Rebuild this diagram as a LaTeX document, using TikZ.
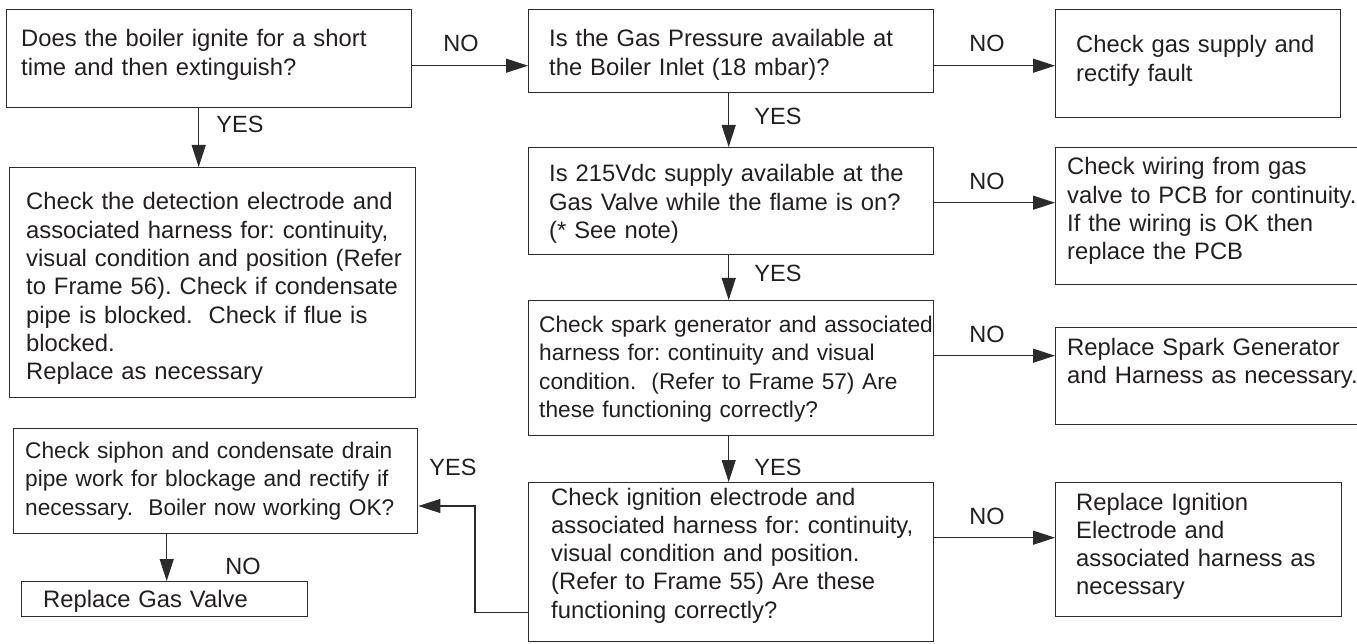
\documentclass[tikz,border=0pt]{standalone}
\usepackage{fontspec}
\setmainfont{Liberation Sans}
\usetikzlibrary{arrows.meta}
\definecolor{ink}{HTML}{231F20}
\definecolor{ln}{HTML}{2B2B2B}
\frenchspacing
\begin{document}
\begin{tikzpicture}[x=1pt,y=-1pt,
  box/.style={draw=ln, line width=1.4pt, inner sep=0pt, anchor=north west},
  txt/.style={text=ink, inner sep=0pt, anchor=base west, align=left, text width=430pt, font=\fontsize{23.8}{28.3}\selectfont\frenchspacing},
  txtsm/.style={txt, font=\fontsize{22.7}{28.6}\selectfont\frenchspacing},
  lab/.style={text=ink, inner sep=0pt, anchor=base, font=\fontsize{23.5}{28}\selectfont},
  arr/.style={draw=ln, line width=1.2pt, -{Triangle[length=22pt,width=14pt]}}]
\useasboundingbox (0,0) rectangle (1357,644);
% boxes
\node[box, minimum width=405pt, minimum height=98pt]  (A) at (6,9) {};
\node[box, minimum width=405pt, minimum height=83pt]  (B) at (528,9) {};
\node[box, minimum width=285pt, minimum height=108pt] (D) at (1055,9) {};
\node[box, minimum width=405pt, minimum height=107pt] (E) at (528,147) {};
\node[box, minimum width=310pt, minimum height=137pt] (F) at (1055,147) {};
\node[box, minimum width=406pt, minimum height=230pt] (C) at (9,167) {};
\node[box, minimum width=405pt, minimum height=135pt] (J) at (528,300) {};
\node[box, minimum width=310pt, minimum height=97pt]  (K) at (1055,327) {};
\node[box, minimum width=404pt, minimum height=105pt] (G) at (13,428) {};
\node[box, minimum width=405pt, minimum height=159pt] (L) at (528,482) {};
\node[box, minimum width=286pt, minimum height=134pt] (M) at (1055,482) {};
\node[box, minimum width=286pt, minimum height=35pt]  (H) at (21,581) {};
% texts
\node[txt] (At) at (21,47) {Does the boiler ignite for a short\\time and then extinguish?};
\node[txt] (Bt) at (549,47) {Is the Gas Pressure available at\\the Boiler Inlet (18 mbar)?};
\node[txt] (Dt) at (1076,53) {Check gas supply and\\rectify fault};
\node[txt] (Et) at (549,182) {Is 215Vdc supply available at the\\Gas Valve while the flame is on?\\(* See note)};
\node[txt] (Ft) at (1067,175) {Check wiring from gas\\valve to PCB for continuity.\\If the wiring is OK then\\replace the PCB};
\node[txt] (Ct) at (26,210) {Check the detection electrode and\\associated harness for: continuity,\\visual condition and position (Refer\\to Frame 56). Check if condensate\\pipe is blocked.~~Check if flue is\\blocked.\\Replace as necessary};
\node[txtsm] (Jt) at (539,332) {Check spark generator and associated\\harness for: continuity and visual\\condition.~~(Refer to Frame 57) Are\\these functioning correctly?};
\node[txt] (Kt) at (1067,355) {Replace Spark Generator\\and Harness as necessary.};
\node[txtsm] (Gt) at (25,458) {Check siphon and condensate drain\\pipe work for blockage and rectify if\\necessary.~~Boiler now working OK?};
\node[txt] (Lt) at (551,505) {Check ignition electrode and\\associated harness for: continuity,\\visual condition and position.\\(Refer to Frame 55) Are these\\functioning correctly?};
\node[txt] (Mt) at (1076,510) {Replace Ignition\\Electrode and\\associated harness as\\necessary};
\node[txt] (Ht) at (43,607) {Replace Gas Valve};
% connectors
\draw[arr] ([yshift=-7pt]A.east) -- ([yshift=-7pt]A.east -| B.west);
\draw[arr] ([yshift=-14.5pt]B.east) -- ([yshift=-14.5pt]B.east -| D.west);
\draw[arr] ([xshift=-10.5pt]A.south) -- ([xshift=-10.5pt]A.south |- C.north);
\draw[arr] ([xshift=-2.5pt]B.south) -- ([xshift=-2.5pt]B.south |- E.north);
\draw[arr] ([yshift=-1.5pt]E.east) -- ([yshift=-1.5pt]E.east -| F.west);
\draw[arr] ([xshift=-2.5pt]E.south) -- ([xshift=-2.5pt]E.south |- J.north);
\draw[arr] ([yshift=12.5pt]J.east) -- ([yshift=12.5pt]J.east -| K.west);
\draw[arr] ([xshift=-2.5pt]J.south) -- ([xshift=-2.5pt]J.south |- L.north);
\draw[arr] ([yshift=24.5pt]L.east) -- ([yshift=24.5pt]L.east -| M.west);
\coordinate (bend) at (475,506);
\draw[arr] ([yshift=-50.5pt]L.west) -| (bend) -- (bend -| G.east);
\draw[arr] ([xshift=-49pt]G.south) -- ([xshift=-49pt]G.south |- H.north);
% labels
\node[lab] (n1) at (461,52) {NO};
\node[lab] (n2) at (987,52) {NO};
\node[lab] (n3) at (987,190) {NO};
\node[lab] (n4) at (987,342) {NO};
\node[lab] (n5) at (987,524) {NO};
\node[lab] (n6) at (243,574) {NO};
\node[lab] (y1) at (240,133) {YES};
\node[lab] (y2) at (778,125) {YES};
\node[lab] (y3) at (778,282) {YES};
\node[lab] (y4) at (778,475) {YES};
\node[lab] (y5) at (453,475) {YES};
\end{tikzpicture}
\end{document}
